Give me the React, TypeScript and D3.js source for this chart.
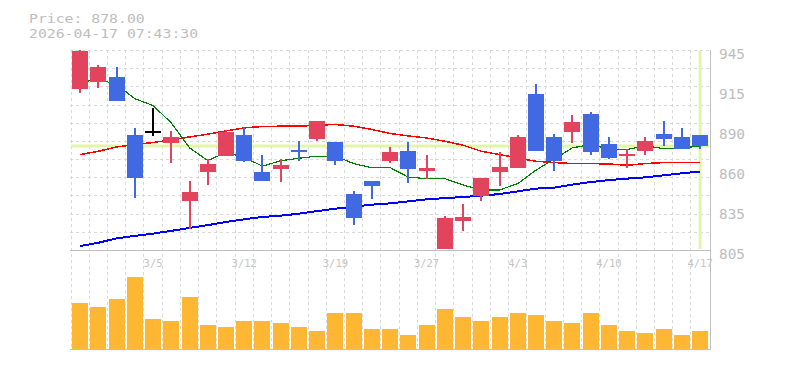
import React from 'react';
import * as d3 from 'd3';

const dates = ['2/27','3/2','3/3','3/4','3/5','3/6','3/9','3/10','3/11','3/12','3/13','3/16','3/17','3/18','3/19','3/23','3/24','3/25','3/26','3/27','3/30','3/31','4/1','4/2','4/3','4/6','4/7','4/8','4/9','4/10','4/13','4/14','4/15','4/16','4/17'];
const labelDates = ['3/5','3/12','3/19','3/27','4/3','4/10','4/17'];

const opens  = [918, 922.4, 926.1, 885.5, 888.3, 880.1, 839.5, 859.8, 871.0, 885.5, 859.6, 861.9, 875.0, 882.9, 880.6, 844.2, 853.3, 867.5, 874.3, 860.3, 805.9, 825.5, 843.0, 859.8, 862.6, 914.2, 884.1, 887.8, 900.2, 879.2, 871.0, 874.5, 886.2, 884.1, 885.5];
const highs  = [945, 934.5, 933.1, 890.4, 904.6, 888.3, 853.3, 869.2, 889.0, 891.1, 871.5, 869.2, 881.3, 895.3, 880.6, 846.5, 853.3, 877.3, 880.6, 871.5, 829.3, 837.2, 855.4, 873.6, 885.5, 921.0, 886.2, 899.5, 901.6, 884.1, 875.7, 884.1, 895.3, 890.4, 885.5];
const lows   = [915, 918.6, 909.5, 841.6, 885.0, 866.1, 820.2, 850.5, 871.0, 866.8, 853.5, 852.8, 867.5, 881.3, 864.7, 822.5, 840.7, 866.1, 852.1, 855.2, 805.9, 818.3, 839.5, 850.0, 862.6, 874.5, 860.5, 880.1, 871.7, 868.9, 862.6, 871.7, 878.0, 875.9, 875.9];
const closes = [944.5, 933.1, 909.5, 855.6, 888.3, 884.1, 845.8, 865.2, 887.8, 867.3, 853.5, 864.5, 873.8, 895.3, 867.3, 827.6, 850.0, 874.1, 861.9, 862.4, 827.4, 828.3, 855.4, 863.1, 884.1, 874.5, 867.3, 894.6, 873.8, 869.6, 872.2, 881.3, 882.9, 875.9, 878.0];

const ma5  = [922.5, 924.5, 921, 911, 906.2, 894.1, 876.7, 867.8, 873.5, 870.0, 863.9, 867.7, 869.4, 870.9, 870.9, 865.7, 862.8, 862.9, 856.2, 855.2, 855.2, 850.8, 847.1, 847.3, 851.7, 861.1, 868.9, 876.7, 878.9, 876.0, 875.5, 878.3, 876.0, 876.4, 878.1];
const ma25 = [872, 874.3, 877.3, 879, 880.4, 882.2, 884.3, 886.2, 888.5, 890.6, 891.6, 891.8, 891.8, 892.5, 893, 891.8, 889.5, 886.7, 885.0, 883.6, 881.3, 878.5, 874.3, 872.0, 869.6, 867.3, 866.4, 865.7, 865.7, 865.4, 864.5, 865.7, 866.4, 866.4, 866.4];
const ma75 = [808.1, 810.4, 813.5, 815.2, 816.8, 818.7, 820.8, 822.7, 824.9, 826.8, 828.4, 829.3, 830.7, 832.5, 834.2, 835.6, 837, 837.9, 839.3, 840.7, 841.6, 842.3, 843.3, 844.4, 846.3, 848.2, 848.9, 851, 852.8, 854.2, 855.2, 856.1, 857.5, 858.9, 860.1];

const volumes = [113, 103, 123, 178, 75, 70, 128, 58, 53, 68, 68, 65, 53, 43, 90, 88, 48, 50, 33, 60, 100, 78, 68, 78, 90, 83, 68, 63, 88, 58, 43, 40, 50, 35, 45];

const priceTicks = [945, 917, 889, 861, 833, 805];
const lastPrice = 878;
const titleLines = ['Price: 878.00', '2026-04-17 07:43:30'];

const UP = '#e2445e';
const DOWN = '#4169e1';
const VOL = '#fdb733';
const GRID = '#d9d9d9';
const FRAME = '#c0c0c0';
const HILITE = '#e3f5a8';
const TEXT = '#bdbdbd';
const MONO = "'DejaVu Sans Mono', monospace";

export default function App() {
  const n = dates.length;
  const idx = d3.range(n);
  const x = d3.scaleBand<number>().domain(idx).range([71, 709.2]).padding(0);
  const step = x.step();
  const cx = (i: number) => (x(i) as number) + step / 2;
  const y = d3.scaleLinear().domain([805, 945]).range([250.5, 50]);
  const v = d3.scaleLinear().domain([0, 200]).range([348.5, 268.5]);
  const bodyW = 16;

  const line = (arr: number[]) =>
    d3.line<number>().x((_, i) => cx(i)).y((d) => y(d))(arr) as string;

  const hGrid = d3.range(11).map((k) => Math.round(50 + (k * 200) / 11) + 0.5);
  const vGrid = d3.range(n).map((k) => Math.floor(x(k) as number) + 0.5);

  const fmt = (d: number) => String(Math.round(d / 5) * 5);

  return (
    <svg width={785} height={370} style={{ position: 'absolute', left: 0, top: 0, background: '#fff' }}>
      {/* title */}
      {titleLines.map((t, i) => (
        <text key={t} x={29} y={23 + i * 15} fontFamily={MONO} fontSize={13} fill={TEXT}
          textLength={t.length * 8.9} lengthAdjust="spacingAndGlyphs">{t}</text>
      ))}

      {/* grid */}
      <g stroke={GRID} strokeWidth={1} strokeDasharray="3,3" shapeRendering="crispEdges">
        {hGrid.map((gy, i) => (
          <line key={'h' + i} x1={70} x2={710} y1={gy} y2={gy} />
        ))}
        {vGrid.map((gx, i) => (
          <line key={'v' + i} x1={gx} x2={gx} y1={50} y2={349} />
        ))}
      </g>

      {/* highlight lines */}
      <line x1={71} x2={709} y1={y(lastPrice)} y2={y(lastPrice)} stroke={HILITE} strokeWidth={3} />
      <line x1={cx(n - 1)} x2={cx(n - 1)} y1={51} y2={249} stroke={HILITE} strokeWidth={3} />

      {/* moving averages */}
      <path d={line(ma75)} fill="none" stroke="#0000ff" strokeWidth={2} shapeRendering="crispEdges" />
      <path d={line(ma25)} fill="none" stroke="#ff0000" strokeWidth={1.5} shapeRendering="crispEdges" />
      <path d={line(ma5)} fill="none" stroke="#008000" strokeWidth={1.2} shapeRendering="crispEdges" />

      {/* candles */}
      <g shapeRendering="crispEdges">
        {idx.map((i) => {
          const o = opens[i], c = closes[i];
          const col = c > o ? UP : c < o ? DOWN : '#000';
          const xc = Math.round(cx(i));
          const top = y(Math.max(o, c));
          const bot = y(Math.min(o, c));
          const h = Math.max(2, bot - top);
          return (
            <g key={i}>
              <line x1={xc} x2={xc} y1={y(highs[i])} y2={y(lows[i])} stroke={col} strokeWidth={1.5} />
              <rect x={xc - bodyW / 2} y={top} width={bodyW} height={h} fill={col} />
            </g>
          );
        })}
      </g>

      {/* volume */}
      <g shapeRendering="crispEdges">
        {idx.map((i) => (
          <rect key={i} x={Math.round(cx(i)) - bodyW / 2} y={v(volumes[i])} width={bodyW} height={v(0) - v(volumes[i])} fill={VOL} />
        ))}
      </g>

      {/* frame */}
      <g stroke={FRAME} strokeWidth={1.5} shapeRendering="crispEdges">
        <line x1={70} x2={711} y1={250.5} y2={250.5} />
        <line x1={70} x2={711} y1={349.5} y2={349.5} />
        <line x1={710.5} x2={710.5} y1={50} y2={350} />
      </g>

      {/* date labels */}
      {labelDates.map((d) => {
        const i = dates.indexOf(d);
        return (
          <text key={d} x={cx(i)} y={266.5} textAnchor="middle" fontFamily={MONO} fontSize={10.5} fill="#c4c4c4">{d}</text>
        );
      })}

      {/* price axis labels */}
      {priceTicks.map((t) => (
        <text key={t} x={719} y={y(t) + 8.6} fontFamily={MONO} fontSize={14.4} fill={TEXT}>{fmt(t)}</text>
      ))}
    </svg>
  );
}
